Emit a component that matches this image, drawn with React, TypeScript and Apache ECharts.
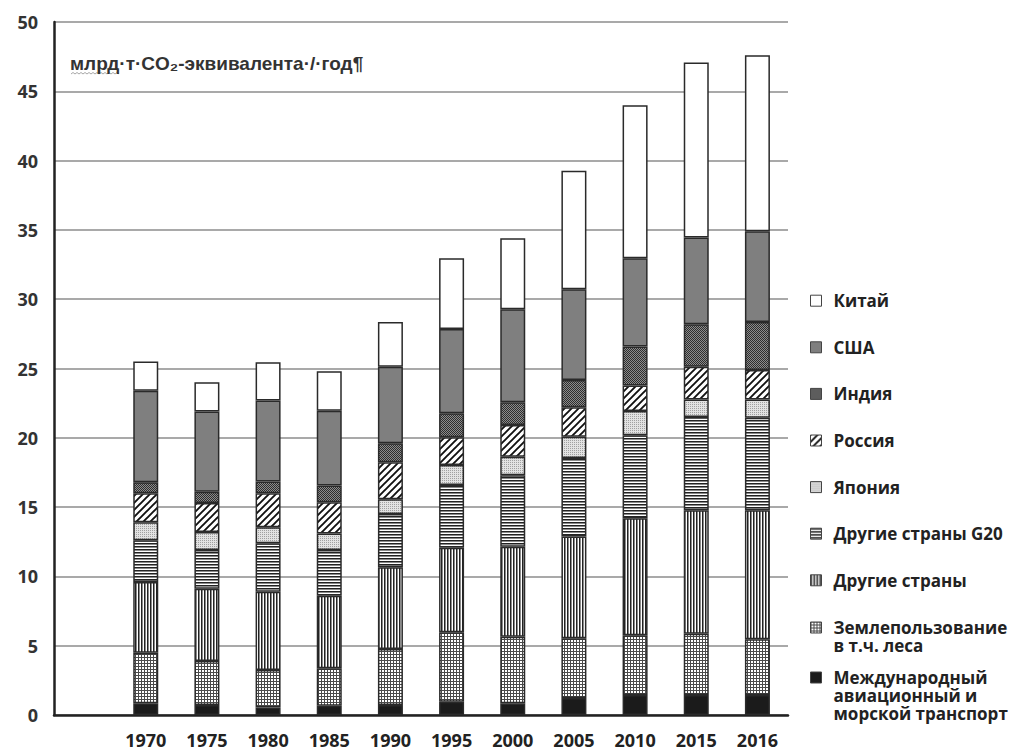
import React, { useEffect, useRef } from "react";
import * as echarts from "echarts";

const years = ["1970", "1975", "1980", "1985", "1990", "1995", "2000", "2005", "2010", "2015", "2016"];
const yTicks = [0, 5, 10, 15, 20, 25, 30, 35, 40, 45, 50];

const transport = [0.85, 0.72, 0.55, 0.67, 0.72, 0.96, 0.84, 1.22, 1.45, 1.45, 1.45];
const landUse = [3.65, 3.18, 2.7, 2.7, 4.04, 5.01, 4.81, 4.31, 4.31, 4.42, 4.01];
const otherCountries = [5.1, 5.2, 5.65, 5.23, 5.9, 6.1, 6.49, 7.35, 8.44, 8.9, 9.31];
const otherG20 = [3.0, 2.8, 3.5, 3.3, 3.84, 4.53, 5.16, 5.67, 5.98, 6.73, 6.68];
const japan = [1.3, 1.3, 1.15, 1.2, 1.06, 1.44, 1.34, 1.53, 1.75, 1.27, 1.32];
const russia = [2.1, 2.1, 2.45, 2.25, 2.67, 2.0, 2.28, 2.12, 1.85, 2.35, 2.13];
const india = [0.8, 0.8, 0.85, 1.2, 1.37, 1.73, 1.64, 1.97, 2.8, 3.08, 3.45];
const usa = [6.6, 5.8, 5.85, 5.4, 5.53, 6.08, 6.71, 6.55, 6.37, 6.26, 6.55];
const china = [2.1, 2.1, 2.75, 2.85, 3.22, 5.1, 5.13, 8.55, 11.05, 12.62, 12.7];

const seriesNames = [
  "Международный\nавиационный и\nморской транспорт",
  "Землепользование\nв т.ч. леса",
  "Другие страны",
  "Другие страны G20",
  "Япония",
  "Россия",
  "Индия",
  "США",
  "Китай",
];
const seriesValues = [transport, landUse, otherCountries, otherG20, japan, russia, india, usa, china];
const unitTitle = "млрд·т·CO₂-эквивалента·/·год¶";

function tile(w: number, h: number, draw: (ctx: CanvasRenderingContext2D) => void): any {
  const c = document.createElement("canvas");
  c.width = w;
  c.height = h;
  const ctx = c.getContext("2d") as CanvasRenderingContext2D;
  ctx.fillStyle = "#ffffff";
  ctx.fillRect(0, 0, w, h);
  draw(ctx);
  return { image: c.toDataURL(), imageWidth: w, imageHeight: h, repeat: "repeat" };
}

function makeFills(): any[] {
  const land = tile(3, 3, (ctx) => {
    ctx.fillStyle = "#4a4a4a";
    ctx.fillRect(0, 0, 3, 1);
    ctx.fillRect(0, 0, 1, 3);
  });
  const vert = tile(3, 3, (ctx) => {
    ctx.fillStyle = "#222";
    ctx.fillRect(0, 0, 1, 3);
    ctx.fillStyle = "#8a8a8a";
    ctx.fillRect(1, 0, 1, 3);
  });
  const horiz = tile(3, 3, (ctx) => {
    ctx.fillStyle = "#222";
    ctx.fillRect(0, 0, 3, 1);
    ctx.fillStyle = "#8a8a8a";
    ctx.fillRect(0, 1, 3, 1);
  });
  const jp = tile(2, 2, (ctx) => {
    ctx.fillStyle = "#e2e2e2";
    ctx.fillRect(0, 0, 2, 2);
    ctx.fillStyle = "#a0a0a0";
    ctx.fillRect(0, 0, 1, 1);
  });
  const ru = tile(7, 7, (ctx) => {
    ctx.strokeStyle = "#111";
    ctx.lineWidth = 1.9;
    ctx.beginPath();
    ctx.moveTo(-1, 8);
    ctx.lineTo(8, -1);
    ctx.moveTo(-2, 2);
    ctx.lineTo(2, -2);
    ctx.moveTo(5, 9);
    ctx.lineTo(9, 5);
    ctx.stroke();
  });
  const ind = tile(2, 2, (ctx) => {
    ctx.fillStyle = "#8c8c8c";
    ctx.fillRect(0, 0, 2, 2);
    ctx.fillStyle = "#2e2e2e";
    ctx.fillRect(0, 0, 1, 1);
    ctx.fillRect(1, 1, 1, 1);
  });
  return ["#1b1b1b", land, vert, horiz, jp, ru, ind, "#7f7f7f", "#ffffff"];
}

// legend layout: y of the first text line / icon centre of each entry, top to bottom
const legendOrder = [8, 7, 6, 5, 4, 3, 2, 1, 0];
const legendCenters = [300.7, 347.3, 393.9, 440.5, 487.1, 533.7, 580.3, 627, 677];
const LH = 18;
const ICON = 11;

export default function App() {
  const ref = useRef<HTMLDivElement>(null);
  useEffect(() => {
    if (!ref.current) return;
    const chart = echarts.init(ref.current, null, { renderer: "svg" });
    const fills = makeFills();
    const legends = legendOrder.map((si, i) => {
      const name = seriesNames[si];
      const n = name.split("\n").length;
      const multi = n > 1;
      const boxH = n * LH;
      const off = (LH - ICON) / 2;
      return {
        data: [name],
        orient: "vertical",
        left: 810,
        top: legendCenters[i] - LH / 2,
        padding: 0,
        icon: multi ? `path://M0,0M0,${off}h${ICON}v${ICON}h-${ICON}zM${ICON},${boxH}` : "rect",
        itemWidth: ICON,
        itemHeight: multi ? boxH : ICON,
        selectedMode: false,
        itemStyle: { borderColor: "#444", borderWidth: 1 },
        textStyle: {
          fontFamily: "Open Sans",
          fontWeight: 700,
          fontSize: 17,
          lineHeight: LH,
          color: "#222",
          padding: [0, 0, 0, 7],
        },
      };
    });
    const option: any = {
      animation: false,
      backgroundColor: "#ffffff",
      title: {
        text: unitTitle,
        left: 70,
        top: 54,
        padding: 0,
        textStyle: { fontFamily: "Liberation Sans", fontSize: 19, fontWeight: "bold", color: "#333" },
      },
      graphic: [
        {
          type: "polyline",
          silent: true,
          shape: {
            points: [
              [71, 74], [73, 72.5], [75, 74], [77, 72.5], [79, 74], [81, 72.5], [83, 74], [85, 72.5],
              [87, 74], [89, 72.5], [91, 74], [93, 72.5], [95, 74], [97, 72.5], [99, 74], [101, 72.5],
              [103, 74], [105, 72.5], [107, 74], [109, 72.5], [111, 74], [113, 72.5], [115, 74], [117, 72.5],
              [119, 74],
            ],
          },
          style: { stroke: "#a8a8a8", lineWidth: 1, fill: null },
        },
      ],
      legend: legends,
      grid: { left: 54, right: 228, top: 22, bottom: 36, containLabel: false },
      xAxis: {
        type: "category",
        data: ["", ...years],
        axisLine: { show: true, lineStyle: { color: "#222", width: 2.5 } },
        axisTick: { show: false },
        axisLabel: {
          margin: 16,
          fontFamily: "Open Sans",
          fontWeight: 700,
          fontSize: 18,
          color: "#222",
        },
      },
      yAxis: {
        type: "value",
        min: yTicks[0],
        max: yTicks[yTicks.length - 1],
        interval: yTicks[1] - yTicks[0],
        axisLine: { show: true, lineStyle: { color: "#222", width: 2.5 } },
        axisTick: { show: false },
        splitLine: { show: true, lineStyle: { color: "#8c8c8c", width: 1.5 } },
        axisLabel: {
          margin: 16,
          fontFamily: "Open Sans",
          fontWeight: 700,
          fontSize: 18,
          color: "#333",
        },
      },
      series: seriesValues.map((vals, i) => ({
        name: seriesNames[i],
        type: "bar",
        stack: "total",
        barWidth: 25,
        data: [null, ...vals],
        itemStyle: { color: fills[i], borderColor: "#2a2a2a", borderWidth: 1.5 },
        emphasis: { disabled: true },
      })),
    };
    chart.setOption(option);
    return () => chart.dispose();
  }, []);
  return (
    <div
      ref={ref}
      style={{ position: "fixed", left: 0, top: 0, width: 1016, height: 751, background: "#fff" }}
    />
  );
}
